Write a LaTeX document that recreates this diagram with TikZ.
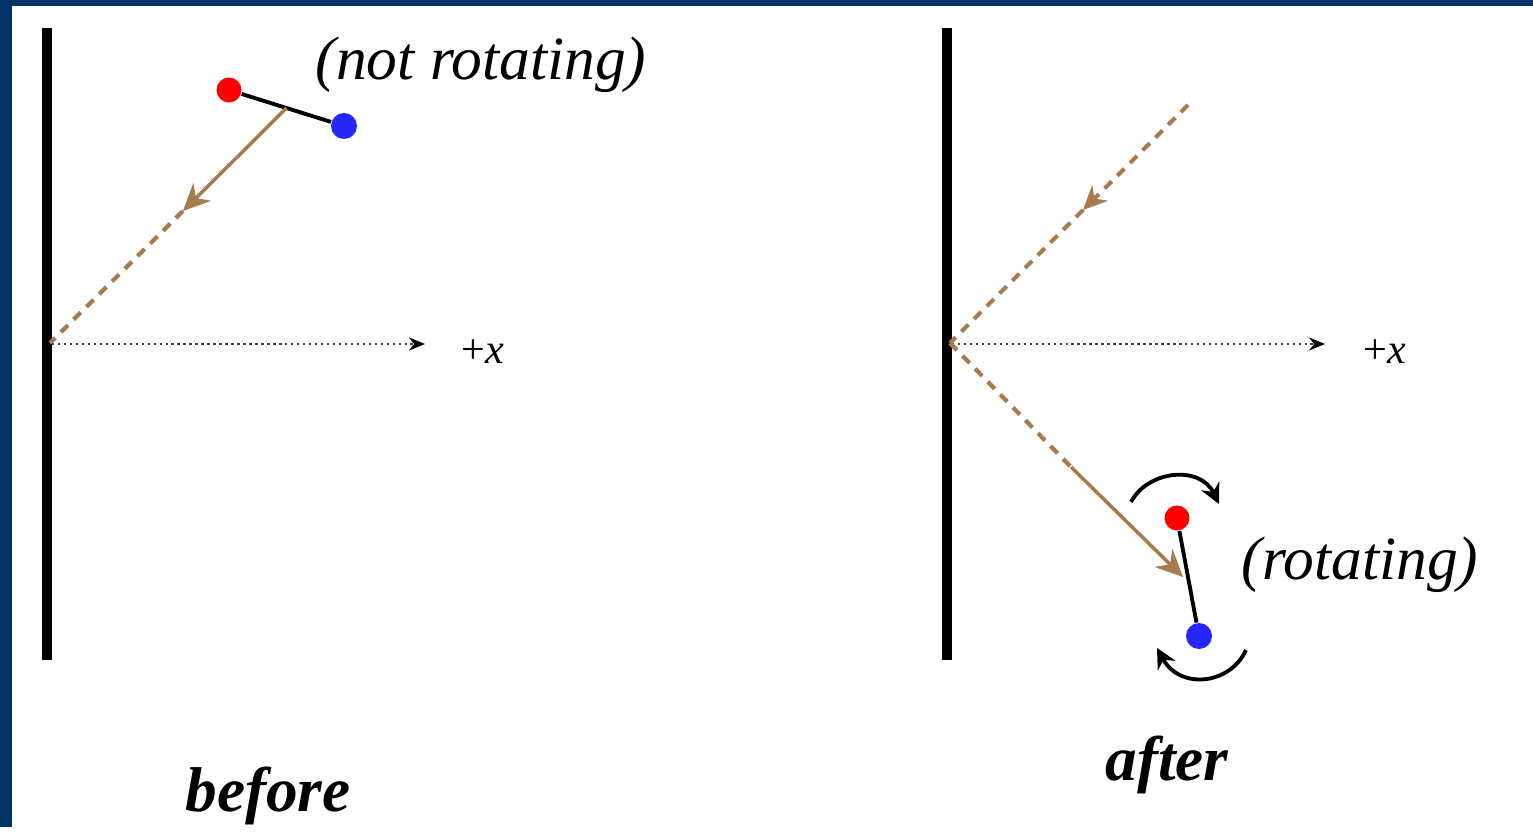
\documentclass[tikz,border=0pt]{standalone}
\usepackage{fontspec}
\setmainfont{Liberation Serif}[
    BoldFont={Liberation Serif Bold},
    ItalicFont={Liberation Serif Italic},
    BoldItalicFont={Liberation Serif Bold Italic}]
\usetikzlibrary{arrows.meta,calc}

\definecolor{slideblue}{RGB}{0,51,102}
\definecolor{kickbrown}{RGB}{168,123,77}

\begin{document}
\begin{tikzpicture}[x=0.1mm, y=-0.1mm,
    wall/.style={line width=2.8pt},
    axis/.style={line width=0.7pt, black!75, densely dotted, -{Stealth[length=1.6mm,width=1.3mm,black]}},
    ball/.style={circle, inner sep=0pt, minimum size=2.5mm},
    stick/.style={line width=1.1pt},
    push/.style={kickbrown, line width=1pt, -{Stealth[length=2.7mm,width=2.5mm]}},
    track/.style={kickbrown, line width=1.2pt, dash pattern=on 1mm off 0.8mm},
    spin/.style={line width=1.1pt, -{Stealth[length=2mm,width=2mm]}},
    note/.style={font=\fontsize{17.5}{20}\selectfont\itshape},
    title/.style={font=\fontsize{18}{21}\selectfont\bfseries\itshape, anchor=base},
    axislabel/.style={font=\fontsize{12}{14}\selectfont, anchor=base}]

    % slide frame
    \fill[slideblue] (0,0) rectangle (1533,827);
    \fill[white] (12,6) rectangle (1533,827);

    % -------------------------------
    % before
    % -------------------------------
    \begin{scope}
        \draw[wall] (47,28) -- (47,660);
        \draw[axis] (52,344) -- (425,344);
        \node[axislabel] (xL) at (483,363) {+\textit{x}};

        \node[ball, fill=red] (redL) at (229,90) {};
        \node[ball, fill=blue!85!white, minimum size=2.6mm] (blueL) at (344,126) {};
        \draw[stick] (redL) -- (blueL);

        % incoming path
        \coordinate (midL) at ($(redL)!0.5!(blueL)$);
        \coordinate (headL) at (183,211);
        \coordinate (hitL) at (50,343);
        \draw[track] (headL) -- (hitL);
        \draw[push] (midL) -- (headL);

        \node[note] (notrot) at (481,65) {(not rotating)};
        \node[title] (before) at (268,811) {before};
    \end{scope}

    % -------------------------------
    % after
    % -------------------------------
    \begin{scope}[shift={(900,0)}]
        \draw[wall] (47,28) -- (47,660);
        \draw[axis] (52,344) -- (425,344);
        \node[axislabel] (xR) at (485,363) {+\textit{x}};

        % incoming and reflected paths
        \coordinate (srcR) at (288,105);
        \coordinate (headR) at (183,210);
        \coordinate (hitR) at (50,343);
        \coordinate (bendR) at (171,467);
        \draw[track, -{Stealth[length=2.4mm,width=2.2mm]}] (srcR) -- (headR);
        \draw[track] (headR) -- (hitR);
        \draw[track] (hitR) -- (bendR);

        \node[ball, fill=red] (redR) at (277,518) {};
        \node[ball, fill=blue!85!white, minimum size=2.6mm] (blueR) at (299,636) {};
        \draw[stick] (redR) -- (blueR);
        \coordinate (tipR) at (283,577);
        \draw[push] (bendR) -- (tipR);

        % spin
        \coordinate (spinA) at (231,502);
        \coordinate (spinB) at (319,504);
        \coordinate (spinC) at (346,650);
        \coordinate (spinD) at (257,648);
        \draw[spin] (spinA) .. controls (248,470) and (300,465) .. (spinB);
        \draw[spin] (spinC) .. controls (330,685) and (280,690) .. (spinD);

        \node[note] (rot) at (460,565) {(rotating)};
        \node[title] (after) at (267,780) {after};
    \end{scope}

\end{tikzpicture}
\end{document}
